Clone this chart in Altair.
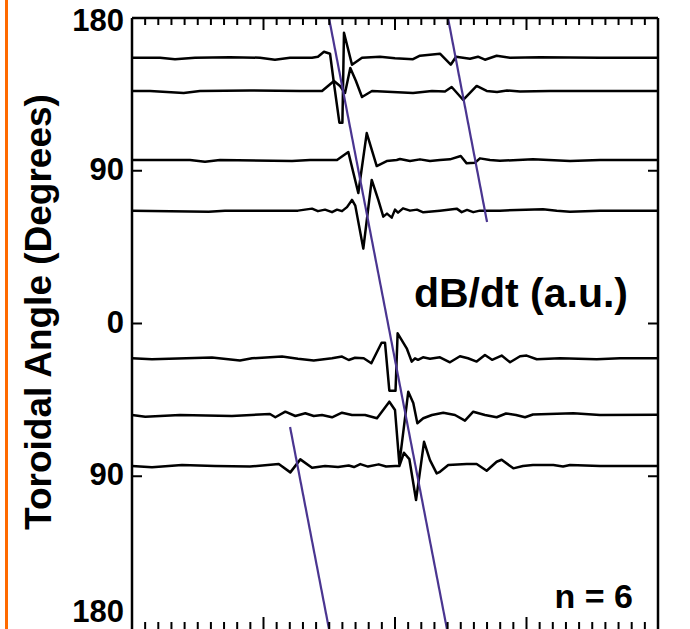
import altair as alt
import pandas as pd

FONT = "Liberation Sans"
PURPLE = "#4a3590"
ORANGE = "#ff6a00"

# ---- probe traces: time (minor-tick units, 0..40) and dB/dt deflection (a.u.) ----
GAIN = 0.589  # degrees of plot per a.u. of dB/dt

T1_base = 156.6
T1_u = [0, 2.13, 3.27, 4.79, 7.45, 9.73, 10.87, 12.02, 13.69, 14.14, 14.6, 15.06, 15.36, 15.77, 16.0, 16.12, 16.73, 17.49, 18.86, 20.0, 21.37, 21.9, 23.42, 24.24, 24.64, 25.7, 26.31, 26.84, 27.73, 28.75, 31.03, 35.59, 40]
T1_a = [0, 0, -1.5, 0, 0.5, 0, -2, 0, 0, 1, 6, 4, -26, -65, -65, 25, -7, 0, 1, -0.5, -1.5, 2, 4, -7, 1, -1, 1, -2, 2, 0, 0.5, 0, 0]

T2_base = 137.0
T2_u = [0, 1.37, 3.93, 5.17, 8.97, 12.78, 14.45, 15.36, 15.82, 16.2, 16.6, 17.03, 17.49, 18.25, 21.37, 22.81, 23.8, 24.31, 25.19, 26.21, 26.97, 27.76, 28.52, 29.51, 31.79, 40]
T2_a = [0, 0, -2, 0, 0.5, 0, 0, 10, 5, -2, 23, 10, -6, 0, -2, 0, -0.5, 4, -9, 5, 0, -1, 0.5, -0.5, 0, 0]

T3_base = 96.3
T3_u = [0, 4.41, 5.55, 6.69, 12.17, 13.54, 15.59, 16.45, 17.21, 17.85, 18.61, 19.37, 20.13, 20.38, 21.14, 21.9, 22.66, 23.42, 24.18, 25.0, 25.45, 26.08, 26.46, 27.22, 27.98, 30.49, 33.31, 35.59, 40]
T3_a = [0, 0, -1.7, 0, -1, 0, 0, 8, -33, 27, -6, -1, 0, 1, -1, 0.7, -1, 0, 0.7, 4, -3.3, -2.7, 1.7, 0, -0.7, 0.7, -1, 0, 0]

T4_base = 66.5
T4_u = [0, 5.83, 7.07, 12.62, 13.69, 14.14, 14.68, 15.21, 15.59, 15.97, 16.35, 16.73, 16.98, 17.59, 18.23, 18.73, 19.11, 19.39, 19.75, 20.0, 20.23, 20.61, 21.14, 21.67, 22.15, 23.42, 24.69, 25.07, 25.48, 25.95, 26.46, 27.98, 31.25, 32.3, 33.31, 35.59, 40]
T4_a = [0, -1, 0, 0, 2, -0.5, 1, -1.5, 1, -0.5, 3.5, 10.7, 5, -38, 30.7, 10.7, -6, -3, -7, 1, -2, 2.3, 0, 1, -1.7, 0, 2, -1.5, 0.7, -1.5, 0, 0, 1.5, 0, -1, 0, 0]

T5_base = -20.5
T5_u = [0, 1.52, 6.08, 8.21, 9.13, 11.41, 12.62, 13.82, 15.21, 15.97, 16.48, 16.96, 17.62, 18.2, 18.98, 19.24, 19.57, 20.04, 20.2, 20.89, 21.27, 21.52, 21.75, 22.13, 22.66, 23.42, 24.18, 24.94, 25.55, 26.21, 26.84, 27.38, 28.11, 28.75, 29.51, 30.01, 30.78, 32.55, 35.34, 37.11, 40]
T5_a = [0, -1, 0.7, -2.3, 0, 1.7, -0.5, -2.3, 0, 1.7, -1.7, 0.5, 0, -5, 15.6, 15.6, -32.4, -32.4, 25, 10, -3.3, 0, -1.5, 1, -0.5, 1, -4, 2, 0, -3.3, 3.3, -1.5, 2.7, -4, 2, 2.7, -1, 0, -1, 0, 0]

T6_base = -53.9
T6_u = [0, 1.01, 3.65, 7.6, 10.49, 10.9, 11.66, 12.42, 13.18, 13.82, 14.45, 15.21, 15.97, 16.73, 17.72, 18.63, 19.57, 20.0, 20.33, 21.01, 21.39, 21.7, 22.15, 22.81, 23.67, 24.56, 25.32, 25.95, 26.84, 27.73, 28.44, 29.2, 29.89, 30.49, 33.56, 35.59, 40]
T6_a = [0, -1.7, 0, -1, 1, -2.3, 3.3, -1, 1.7, -1, 0, -2.3, 2.3, 0, 0, -3.3, 13.3, 5, -49, 23.3, 12, -8.3, -3.3, 0, 2.3, 0, -5.7, 3.3, 0, -2.3, 1.5, 0, -2.3, 0.5, 1.7, 0, 0.3]

T7_base = -84.0
T7_u = [0, 1.52, 3.8, 6.31, 8.97, 11.16, 12.04, 12.8, 13.69, 14.68, 15.67, 16.48, 16.88, 17.36, 17.95, 18.76, 19.32, 20.02, 20.33, 20.68, 21.09, 21.6, 22.21, 22.66, 23.17, 23.42, 24.05, 25.45, 26.21, 26.97, 27.73, 28.11, 29.0, 29.73, 30.49, 32.04, 32.78, 33.31, 35.59, 40]
T7_a = [0, -1.3, 1, 0, -0.5, 2, -6.3, 6.7, -1.7, 0, -1, 0.5, -1, 2, -0.5, 1.7, -0.5, 0, 0, 13.3, 7, -34, 24.3, 6, -7.3, -5.7, 1, 2, 2, -4.7, 4.3, 6.3, -2.3, 0, 1, 1, -0.5, 1, 0, 0]

# ---- mode propagation lines (time, toroidal angle) ----
LINE_ID = ["A", "A", "B", "B", "C", "C"]
LINE_U = [14.98, 23.95, 24.03, 27.0, 12.02, 14.98]
LINE_DEG = [180, -180, 180, 59.8, -61.0, -180]

Y_MID_TICKS = [-90, 0, 90]
Y_MID_LABELS = ["90", "0", "90"]
Y_TOP_TICK = [180]
Y_BOTTOM_TICK = [-180]
X_MAJOR = [0, 10, 20, 30, 40]
X_MINOR = [v for v in range(1, 40) if v % 10 != 0]
Y_TITLE = "Toroidal Angle (Degrees)"

traces = [
    ("t1", T1_base, T1_u, T1_a), ("t2", T2_base, T2_u, T2_a),
    ("t3", T3_base, T3_u, T3_a), ("t4", T4_base, T4_u, T4_a),
    ("t5", T5_base, T5_u, T5_a), ("t6", T6_base, T6_u, T6_a),
    ("t7", T7_base, T7_u, T7_a),
]
rows = []
for name, base, us, amps in traces:
    for i, (u, a) in enumerate(zip(us, amps)):
        rows.append({"trace": name, "idx": i, "u": u, "deg": base + a * GAIN})
traces_df = pd.DataFrame(rows)
lines_df = pd.DataFrame({"line": LINE_ID, "u": LINE_U, "deg": LINE_DEG})

W, H = 526, 611
xs = alt.Scale(domain=[0, 40], nice=False, zero=False)
ys = alt.Scale(domain=[-180, 180], nice=False, zero=False)

trace_layer = alt.Chart(traces_df).mark_line(color="black", strokeWidth=2.5, strokeJoin="round").encode(
    x=alt.X("u:Q", scale=xs, axis=None),
    y=alt.Y("deg:Q", scale=ys, axis=None),
    detail="trace:N",
    order="idx:Q",
)

purple_layer = alt.Chart(lines_df).mark_line(color=PURPLE, strokeWidth=2.2).encode(
    x=alt.X("u:Q", scale=xs, axis=None),
    y=alt.Y("deg:Q", scale=ys, axis=None),
    detail="line:N",
)

def xtick(vals, y0, y1):
    return alt.Chart(pd.DataFrame({"u": vals})).mark_rule(color="black", strokeWidth=2).encode(
        x=alt.X("u:Q", scale=xs, axis=None), y=alt.value(y0), y2=alt.value(y1))

def ytick(x0, x1):
    return alt.Chart(pd.DataFrame({"deg": Y_MID_TICKS})).mark_rule(color="black", strokeWidth=2).encode(
        y=alt.Y("deg:Q", scale=ys, axis=None), x=alt.value(x0), x2=alt.value(x1))

def ylabels(vals, labels, dy):
    return alt.Chart(pd.DataFrame({"deg": vals, "lab": labels})).mark_text(
        align="right", baseline="middle", font=FONT, fontWeight="bold", fontSize=31,
        color="black", dy=dy
    ).encode(y=alt.Y("deg:Q", scale=ys, axis=None), x=alt.value(-8), text="lab:N")

one = pd.DataFrame({"k": [0]})
frame_top = alt.Chart(one).mark_rule(color="black", strokeWidth=2.5).encode(
    x=alt.value(0), x2=alt.value(W), y=alt.value(0))
frame_left = alt.Chart(one).mark_rule(color="black", strokeWidth=2.5).encode(
    x=alt.value(0), y=alt.value(0), y2=alt.value(H))
frame_right = alt.Chart(one).mark_rule(color="black", strokeWidth=2.5).encode(
    x=alt.value(W), y=alt.value(0), y2=alt.value(H))
orange = alt.Chart(one).mark_rule(color=ORANGE, strokeWidth=3).encode(
    x=alt.value(-125.5), y=alt.value(-18), y2=alt.value(H))

title = alt.Chart(pd.DataFrame({"t": [Y_TITLE]})).mark_text(
    align="center", baseline="middle", angle=270, font=FONT, fontWeight="bold",
    fontSize=37, color="black"
).encode(text="t:N", x=alt.value(-92), y=alt.value(294))
label1 = alt.Chart(pd.DataFrame({"t": ["dB/dt (a.u.)"]})).mark_text(
    align="right", baseline="middle", font=FONT, fontWeight="bold", fontSize=41, color="black"
).encode(text="t:N", x=alt.value(496), y=alt.value(277))
label2 = alt.Chart(pd.DataFrame({"t": ["n = 6"]})).mark_text(
    align="right", baseline="middle", font=FONT, fontWeight="bold", fontSize=34, color="black"
).encode(text="t:N", x=alt.value(501), y=alt.value(580))

chart = alt.layer(
    trace_layer, purple_layer,
    xtick(X_MAJOR, 0, 12), xtick(X_MINOR, 0, 7),
    xtick(X_MAJOR, H, H - 12), xtick(X_MINOR, H, H - 7),
    ytick(0, 10), ytick(W, W - 10),
    ylabels(Y_MID_TICKS, Y_MID_LABELS, 0),
    ylabels(Y_TOP_TICK, ["180"], 4),
    ylabels(Y_BOTTOM_TICK, ["180"], -16),
    frame_top, frame_left, frame_right, orange, title, label1, label2,
).properties(
    width=W, height=H, autosize="none",
    padding={"left": 132, "top": 18, "right": 32, "bottom": 0},
    background="white",
).configure_view(strokeWidth=0)

chart.save("out.html", embed_options={"renderer": "svg", "actions": False})
